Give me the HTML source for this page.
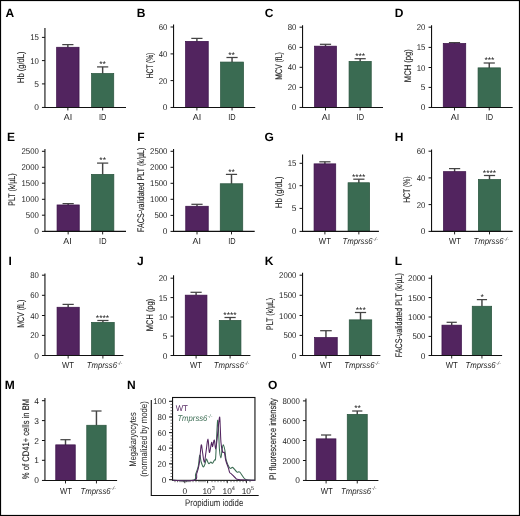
<!DOCTYPE html>
<html><head><meta charset="utf-8"><style>
html,body{margin:0;padding:0;background:#fff;}
svg{display:block;font-family:"Liberation Sans", sans-serif;will-change:transform;text-rendering:geometricPrecision;}
</style></head><body>
<svg width="520" height="516" viewBox="0 0 520 516">
<rect x="0.5" y="0.5" width="519" height="515" fill="#fff" stroke="#000" stroke-width="1.2"/>
<line x1="67.85" y1="44.60" x2="67.85" y2="47.40" stroke="#444" stroke-width="1.45"/>
<line x1="62.25" y1="44.60" x2="73.45" y2="44.60" stroke="#444" stroke-width="1.25"/>
<rect x="56.65" y="47.25" width="22.40" height="60.20" fill="#52245f" stroke="#3a0f48" stroke-width="0.7"/>
<line x1="67.85" y1="107.45" x2="67.85" y2="110.45" stroke="#222" stroke-width="1"/>
<line x1="102.65" y1="66.90" x2="102.65" y2="73.60" stroke="#444" stroke-width="1.45"/>
<line x1="97.05" y1="66.90" x2="108.25" y2="66.90" stroke="#444" stroke-width="1.25"/>
<rect x="91.55" y="73.45" width="22.20" height="34.00" fill="#3a6b52" stroke="#28533d" stroke-width="0.7"/>
<line x1="102.65" y1="107.45" x2="102.65" y2="110.45" stroke="#222" stroke-width="1"/>
<line x1="44.94" y1="28.00" x2="44.94" y2="107.95" stroke="#111" stroke-width="1.1"/>
<line x1="44.44" y1="107.45" x2="126.00" y2="107.45" stroke="#111" stroke-width="1.1"/>
<line x1="41.94" y1="107.45" x2="44.94" y2="107.45" stroke="#111" stroke-width="1"/>
<text x="38.84" y="110.45" font-size="8.4" text-anchor="end" fill="#1e1e1e" >0</text>
<line x1="41.94" y1="83.90" x2="44.94" y2="83.90" stroke="#111" stroke-width="1"/>
<text x="38.84" y="86.90" font-size="8.4" text-anchor="end" fill="#1e1e1e" >5</text>
<line x1="41.94" y1="60.60" x2="44.94" y2="60.60" stroke="#111" stroke-width="1"/>
<text x="38.84" y="63.60" font-size="8.4" text-anchor="end" fill="#1e1e1e" textLength="8.69" lengthAdjust="spacingAndGlyphs" >10</text>
<line x1="41.94" y1="37.40" x2="44.94" y2="37.40" stroke="#111" stroke-width="1"/>
<text x="38.84" y="40.40" font-size="8.4" text-anchor="end" fill="#1e1e1e" textLength="8.69" lengthAdjust="spacingAndGlyphs" >15</text>
<text x="102.60" y="67.11" font-size="8.6" text-anchor="middle" fill="#222">**</text>
<text x="24.10" y="67.20" font-size="9.6" text-anchor="middle" fill="#1e1e1e" textLength="31.4" lengthAdjust="spacingAndGlyphs" transform="rotate(-90 24.10 67.20)" stroke="#1e1e1e" stroke-width="0.12">Hb (g/dL)</text>
<text x="68.00" y="120.20" font-size="8.6" text-anchor="middle" fill="#1e1e1e" textLength="8.4" lengthAdjust="spacingAndGlyphs" >AI</text>
<text x="102.70" y="120.20" font-size="8.6" text-anchor="middle" fill="#1e1e1e" textLength="7.4" lengthAdjust="spacingAndGlyphs" >ID</text>
<text x="5.60" y="17.00" font-size="12" text-anchor="start" fill="#000" font-weight="bold" >A</text>
<line x1="196.90" y1="38.40" x2="196.90" y2="41.50" stroke="#444" stroke-width="1.45"/>
<line x1="191.30" y1="38.40" x2="202.50" y2="38.40" stroke="#444" stroke-width="1.25"/>
<rect x="185.55" y="41.35" width="22.70" height="66.10" fill="#52245f" stroke="#3a0f48" stroke-width="0.7"/>
<line x1="196.90" y1="107.45" x2="196.90" y2="110.45" stroke="#222" stroke-width="1"/>
<line x1="232.05" y1="57.50" x2="232.05" y2="62.20" stroke="#444" stroke-width="1.45"/>
<line x1="226.45" y1="57.50" x2="237.65" y2="57.50" stroke="#444" stroke-width="1.25"/>
<rect x="220.55" y="62.05" width="23.00" height="45.40" fill="#3a6b52" stroke="#28533d" stroke-width="0.7"/>
<line x1="232.05" y1="107.45" x2="232.05" y2="110.45" stroke="#222" stroke-width="1"/>
<line x1="173.55" y1="24.40" x2="173.55" y2="107.95" stroke="#111" stroke-width="1.1"/>
<line x1="173.05" y1="107.45" x2="255.20" y2="107.45" stroke="#111" stroke-width="1.1"/>
<line x1="170.55" y1="107.45" x2="173.55" y2="107.45" stroke="#111" stroke-width="1"/>
<text x="167.45" y="110.45" font-size="8.4" text-anchor="end" fill="#1e1e1e" >0</text>
<line x1="170.55" y1="80.60" x2="173.55" y2="80.60" stroke="#111" stroke-width="1"/>
<text x="167.45" y="83.60" font-size="8.4" text-anchor="end" fill="#1e1e1e" textLength="8.69" lengthAdjust="spacingAndGlyphs" >20</text>
<line x1="170.55" y1="53.90" x2="173.55" y2="53.90" stroke="#111" stroke-width="1"/>
<text x="167.45" y="56.90" font-size="8.4" text-anchor="end" fill="#1e1e1e" textLength="8.69" lengthAdjust="spacingAndGlyphs" >40</text>
<line x1="170.55" y1="27.00" x2="173.55" y2="27.00" stroke="#111" stroke-width="1"/>
<text x="167.45" y="30.00" font-size="8.4" text-anchor="end" fill="#1e1e1e" textLength="8.69" lengthAdjust="spacingAndGlyphs" >60</text>
<text x="231.50" y="57.61" font-size="8.6" text-anchor="middle" fill="#222">**</text>
<text x="153.00" y="65.50" font-size="9.6" text-anchor="middle" fill="#1e1e1e" textLength="25.7" lengthAdjust="spacingAndGlyphs" transform="rotate(-90 153.00 65.50)" stroke="#1e1e1e" stroke-width="0.12">HCT (%)</text>
<text x="197.00" y="120.20" font-size="8.6" text-anchor="middle" fill="#1e1e1e" textLength="8.4" lengthAdjust="spacingAndGlyphs" >AI</text>
<text x="232.00" y="120.20" font-size="8.6" text-anchor="middle" fill="#1e1e1e" textLength="7.4" lengthAdjust="spacingAndGlyphs" >ID</text>
<text x="136.80" y="17.00" font-size="12" text-anchor="start" fill="#000" font-weight="bold" >B</text>
<line x1="325.50" y1="44.30" x2="325.50" y2="46.30" stroke="#444" stroke-width="1.45"/>
<line x1="319.90" y1="44.30" x2="331.10" y2="44.30" stroke="#444" stroke-width="1.25"/>
<rect x="314.55" y="46.15" width="21.90" height="61.30" fill="#52245f" stroke="#3a0f48" stroke-width="0.7"/>
<line x1="325.50" y1="107.45" x2="325.50" y2="110.45" stroke="#222" stroke-width="1"/>
<line x1="360.15" y1="58.70" x2="360.15" y2="61.50" stroke="#444" stroke-width="1.45"/>
<line x1="354.55" y1="58.70" x2="365.75" y2="58.70" stroke="#444" stroke-width="1.25"/>
<rect x="349.05" y="61.35" width="22.20" height="46.10" fill="#3a6b52" stroke="#28533d" stroke-width="0.7"/>
<line x1="360.15" y1="107.45" x2="360.15" y2="110.45" stroke="#222" stroke-width="1"/>
<line x1="302.55" y1="25.20" x2="302.55" y2="107.95" stroke="#111" stroke-width="1.1"/>
<line x1="302.05" y1="107.45" x2="383.00" y2="107.45" stroke="#111" stroke-width="1.1"/>
<line x1="299.55" y1="107.45" x2="302.55" y2="107.45" stroke="#111" stroke-width="1"/>
<text x="296.45" y="110.45" font-size="8.4" text-anchor="end" fill="#1e1e1e" >0</text>
<line x1="299.55" y1="87.40" x2="302.55" y2="87.40" stroke="#111" stroke-width="1"/>
<text x="296.45" y="90.40" font-size="8.4" text-anchor="end" fill="#1e1e1e" textLength="8.69" lengthAdjust="spacingAndGlyphs" >20</text>
<line x1="299.55" y1="67.30" x2="302.55" y2="67.30" stroke="#111" stroke-width="1"/>
<text x="296.45" y="70.30" font-size="8.4" text-anchor="end" fill="#1e1e1e" textLength="8.69" lengthAdjust="spacingAndGlyphs" >40</text>
<line x1="299.55" y1="47.40" x2="302.55" y2="47.40" stroke="#111" stroke-width="1"/>
<text x="296.45" y="50.40" font-size="8.4" text-anchor="end" fill="#1e1e1e" textLength="8.69" lengthAdjust="spacingAndGlyphs" >60</text>
<line x1="299.55" y1="27.20" x2="302.55" y2="27.20" stroke="#111" stroke-width="1"/>
<text x="296.45" y="30.20" font-size="8.4" text-anchor="end" fill="#1e1e1e" textLength="8.69" lengthAdjust="spacingAndGlyphs" >80</text>
<text x="360.20" y="59.41" font-size="8.6" text-anchor="middle" fill="#222">***</text>
<text x="282.30" y="65.90" font-size="9.6" text-anchor="middle" fill="#1e1e1e" textLength="27.6" lengthAdjust="spacingAndGlyphs" transform="rotate(-90 282.30 65.90)" stroke="#1e1e1e" stroke-width="0.12">MCV (fL)</text>
<text x="326.00" y="120.20" font-size="8.6" text-anchor="middle" fill="#1e1e1e" textLength="8.4" lengthAdjust="spacingAndGlyphs" >AI</text>
<text x="360.30" y="120.20" font-size="8.6" text-anchor="middle" fill="#1e1e1e" textLength="7.4" lengthAdjust="spacingAndGlyphs" >ID</text>
<text x="264.80" y="17.00" font-size="12" text-anchor="start" fill="#000" font-weight="bold" >C</text>
<line x1="454.50" y1="42.60" x2="454.50" y2="43.60" stroke="#444" stroke-width="1.45"/>
<line x1="448.90" y1="42.60" x2="460.10" y2="42.60" stroke="#444" stroke-width="1.25"/>
<rect x="443.25" y="43.45" width="22.50" height="64.00" fill="#52245f" stroke="#3a0f48" stroke-width="0.7"/>
<line x1="454.50" y1="107.45" x2="454.50" y2="110.45" stroke="#222" stroke-width="1"/>
<line x1="489.25" y1="63.00" x2="489.25" y2="68.00" stroke="#444" stroke-width="1.45"/>
<line x1="483.65" y1="63.00" x2="494.85" y2="63.00" stroke="#444" stroke-width="1.25"/>
<rect x="478.05" y="67.85" width="22.40" height="39.60" fill="#3a6b52" stroke="#28533d" stroke-width="0.7"/>
<line x1="489.25" y1="107.45" x2="489.25" y2="110.45" stroke="#222" stroke-width="1"/>
<line x1="431.55" y1="25.20" x2="431.55" y2="107.95" stroke="#111" stroke-width="1.1"/>
<line x1="431.05" y1="107.45" x2="512.70" y2="107.45" stroke="#111" stroke-width="1.1"/>
<line x1="428.55" y1="107.45" x2="431.55" y2="107.45" stroke="#111" stroke-width="1"/>
<text x="425.45" y="110.45" font-size="8.4" text-anchor="end" fill="#1e1e1e" >0</text>
<line x1="428.55" y1="87.40" x2="431.55" y2="87.40" stroke="#111" stroke-width="1"/>
<text x="425.45" y="90.40" font-size="8.4" text-anchor="end" fill="#1e1e1e" >5</text>
<line x1="428.55" y1="67.50" x2="431.55" y2="67.50" stroke="#111" stroke-width="1"/>
<text x="425.45" y="70.50" font-size="8.4" text-anchor="end" fill="#1e1e1e" textLength="8.69" lengthAdjust="spacingAndGlyphs" >10</text>
<line x1="428.55" y1="47.40" x2="431.55" y2="47.40" stroke="#111" stroke-width="1"/>
<text x="425.45" y="50.40" font-size="8.4" text-anchor="end" fill="#1e1e1e" textLength="8.69" lengthAdjust="spacingAndGlyphs" >15</text>
<line x1="428.55" y1="27.20" x2="431.55" y2="27.20" stroke="#111" stroke-width="1"/>
<text x="425.45" y="30.20" font-size="8.4" text-anchor="end" fill="#1e1e1e" textLength="8.69" lengthAdjust="spacingAndGlyphs" >20</text>
<text x="489.40" y="63.41" font-size="8.6" text-anchor="middle" fill="#222">***</text>
<text x="411.00" y="65.70" font-size="9.6" text-anchor="middle" fill="#1e1e1e" textLength="33" lengthAdjust="spacingAndGlyphs" transform="rotate(-90 411.00 65.70)" stroke="#1e1e1e" stroke-width="0.12">MCH (pg)</text>
<text x="455.00" y="120.20" font-size="8.6" text-anchor="middle" fill="#1e1e1e" textLength="8.4" lengthAdjust="spacingAndGlyphs" >AI</text>
<text x="489.50" y="120.20" font-size="8.6" text-anchor="middle" fill="#1e1e1e" textLength="7.4" lengthAdjust="spacingAndGlyphs" >ID</text>
<text x="394.80" y="17.00" font-size="12" text-anchor="start" fill="#000" font-weight="bold" >D</text>
<line x1="68.15" y1="203.60" x2="68.15" y2="205.10" stroke="#444" stroke-width="1.45"/>
<line x1="62.55" y1="203.60" x2="73.75" y2="203.60" stroke="#444" stroke-width="1.25"/>
<rect x="57.05" y="204.95" width="22.20" height="26.45" fill="#52245f" stroke="#3a0f48" stroke-width="0.7"/>
<line x1="68.15" y1="231.40" x2="68.15" y2="234.40" stroke="#222" stroke-width="1"/>
<line x1="102.65" y1="163.10" x2="102.65" y2="174.50" stroke="#444" stroke-width="1.45"/>
<line x1="97.05" y1="163.10" x2="108.25" y2="163.10" stroke="#444" stroke-width="1.25"/>
<rect x="91.45" y="174.35" width="22.40" height="57.05" fill="#3a6b52" stroke="#28533d" stroke-width="0.7"/>
<line x1="102.65" y1="231.40" x2="102.65" y2="234.40" stroke="#222" stroke-width="1"/>
<line x1="44.94" y1="149.00" x2="44.94" y2="231.90" stroke="#111" stroke-width="1.1"/>
<line x1="44.44" y1="231.40" x2="126.00" y2="231.40" stroke="#111" stroke-width="1.1"/>
<line x1="41.94" y1="231.40" x2="44.94" y2="231.40" stroke="#111" stroke-width="1"/>
<text x="38.84" y="234.40" font-size="8.4" text-anchor="end" fill="#1e1e1e" >0</text>
<line x1="41.94" y1="215.20" x2="44.94" y2="215.20" stroke="#111" stroke-width="1"/>
<text x="38.84" y="218.20" font-size="8.4" text-anchor="end" fill="#1e1e1e" textLength="13.03" lengthAdjust="spacingAndGlyphs" >500</text>
<line x1="41.94" y1="199.30" x2="44.94" y2="199.30" stroke="#111" stroke-width="1"/>
<text x="38.84" y="202.30" font-size="8.4" text-anchor="end" fill="#1e1e1e" textLength="17.37" lengthAdjust="spacingAndGlyphs" >1000</text>
<line x1="41.94" y1="183.20" x2="44.94" y2="183.20" stroke="#111" stroke-width="1"/>
<text x="38.84" y="186.20" font-size="8.4" text-anchor="end" fill="#1e1e1e" textLength="17.37" lengthAdjust="spacingAndGlyphs" >1500</text>
<line x1="41.94" y1="167.30" x2="44.94" y2="167.30" stroke="#111" stroke-width="1"/>
<text x="38.84" y="170.30" font-size="8.4" text-anchor="end" fill="#1e1e1e" textLength="17.37" lengthAdjust="spacingAndGlyphs" >2000</text>
<line x1="41.94" y1="151.30" x2="44.94" y2="151.30" stroke="#111" stroke-width="1"/>
<text x="38.84" y="154.30" font-size="8.4" text-anchor="end" fill="#1e1e1e" textLength="17.37" lengthAdjust="spacingAndGlyphs" >2500</text>
<text x="102.70" y="163.41" font-size="8.6" text-anchor="middle" fill="#222">**</text>
<text x="15.10" y="189.60" font-size="9.6" text-anchor="middle" fill="#1e1e1e" textLength="32.2" lengthAdjust="spacingAndGlyphs" transform="rotate(-90 15.10 189.60)" stroke="#1e1e1e" stroke-width="0.12">PLT (k/µL)</text>
<text x="67.50" y="244.30" font-size="8.6" text-anchor="middle" fill="#1e1e1e" textLength="8.4" lengthAdjust="spacingAndGlyphs" >AI</text>
<text x="102.80" y="244.30" font-size="8.6" text-anchor="middle" fill="#1e1e1e" textLength="7.4" lengthAdjust="spacingAndGlyphs" >ID</text>
<text x="7.00" y="141.20" font-size="12" text-anchor="start" fill="#000" font-weight="bold" >E</text>
<line x1="197.00" y1="204.30" x2="197.00" y2="206.40" stroke="#444" stroke-width="1.45"/>
<line x1="191.40" y1="204.30" x2="202.60" y2="204.30" stroke="#444" stroke-width="1.25"/>
<rect x="185.75" y="206.25" width="22.50" height="25.15" fill="#52245f" stroke="#3a0f48" stroke-width="0.7"/>
<line x1="197.00" y1="231.40" x2="197.00" y2="234.40" stroke="#222" stroke-width="1"/>
<line x1="231.50" y1="174.40" x2="231.50" y2="183.90" stroke="#444" stroke-width="1.45"/>
<line x1="225.90" y1="174.40" x2="237.10" y2="174.40" stroke="#444" stroke-width="1.25"/>
<rect x="220.25" y="183.75" width="22.50" height="47.65" fill="#3a6b52" stroke="#28533d" stroke-width="0.7"/>
<line x1="231.50" y1="231.40" x2="231.50" y2="234.40" stroke="#222" stroke-width="1"/>
<line x1="173.55" y1="149.00" x2="173.55" y2="231.90" stroke="#111" stroke-width="1.1"/>
<line x1="173.05" y1="231.40" x2="254.70" y2="231.40" stroke="#111" stroke-width="1.1"/>
<line x1="170.55" y1="231.40" x2="173.55" y2="231.40" stroke="#111" stroke-width="1"/>
<text x="167.45" y="234.40" font-size="8.4" text-anchor="end" fill="#1e1e1e" >0</text>
<line x1="170.55" y1="215.40" x2="173.55" y2="215.40" stroke="#111" stroke-width="1"/>
<text x="167.45" y="218.40" font-size="8.4" text-anchor="end" fill="#1e1e1e" textLength="13.03" lengthAdjust="spacingAndGlyphs" >500</text>
<line x1="170.55" y1="199.30" x2="173.55" y2="199.30" stroke="#111" stroke-width="1"/>
<text x="167.45" y="202.30" font-size="8.4" text-anchor="end" fill="#1e1e1e" textLength="17.37" lengthAdjust="spacingAndGlyphs" >1000</text>
<line x1="170.55" y1="183.30" x2="173.55" y2="183.30" stroke="#111" stroke-width="1"/>
<text x="167.45" y="186.30" font-size="8.4" text-anchor="end" fill="#1e1e1e" textLength="17.37" lengthAdjust="spacingAndGlyphs" >1500</text>
<line x1="170.55" y1="167.30" x2="173.55" y2="167.30" stroke="#111" stroke-width="1"/>
<text x="167.45" y="170.30" font-size="8.4" text-anchor="end" fill="#1e1e1e" textLength="17.37" lengthAdjust="spacingAndGlyphs" >2000</text>
<line x1="170.55" y1="151.30" x2="173.55" y2="151.30" stroke="#111" stroke-width="1"/>
<text x="167.45" y="154.30" font-size="8.4" text-anchor="end" fill="#1e1e1e" textLength="17.37" lengthAdjust="spacingAndGlyphs" >2500</text>
<text x="231.50" y="174.71" font-size="8.6" text-anchor="middle" fill="#222">**</text>
<text x="143.80" y="189.80" font-size="9.6" text-anchor="middle" fill="#1e1e1e" textLength="84.3" lengthAdjust="spacingAndGlyphs" transform="rotate(-90 143.80 189.80)" stroke="#1e1e1e" stroke-width="0.12">FACS-validated PLT (k/µL)</text>
<text x="196.80" y="244.30" font-size="8.6" text-anchor="middle" fill="#1e1e1e" textLength="8.4" lengthAdjust="spacingAndGlyphs" >AI</text>
<text x="232.00" y="244.30" font-size="8.6" text-anchor="middle" fill="#1e1e1e" textLength="7.4" lengthAdjust="spacingAndGlyphs" >ID</text>
<text x="137.30" y="141.20" font-size="12" text-anchor="start" fill="#000" font-weight="bold" >F</text>
<line x1="324.90" y1="161.80" x2="324.90" y2="164.00" stroke="#444" stroke-width="1.45"/>
<line x1="319.30" y1="161.80" x2="330.50" y2="161.80" stroke="#444" stroke-width="1.25"/>
<rect x="314.05" y="163.85" width="21.70" height="67.55" fill="#52245f" stroke="#3a0f48" stroke-width="0.7"/>
<line x1="324.90" y1="231.40" x2="324.90" y2="234.40" stroke="#222" stroke-width="1"/>
<line x1="358.85" y1="179.20" x2="358.85" y2="182.90" stroke="#444" stroke-width="1.45"/>
<line x1="353.25" y1="179.20" x2="364.45" y2="179.20" stroke="#444" stroke-width="1.25"/>
<rect x="348.05" y="182.75" width="21.60" height="48.65" fill="#3a6b52" stroke="#28533d" stroke-width="0.7"/>
<line x1="358.85" y1="231.40" x2="358.85" y2="234.40" stroke="#222" stroke-width="1"/>
<line x1="302.55" y1="154.50" x2="302.55" y2="231.90" stroke="#111" stroke-width="1.1"/>
<line x1="302.05" y1="231.40" x2="378.90" y2="231.40" stroke="#111" stroke-width="1.1"/>
<line x1="299.55" y1="231.40" x2="302.55" y2="231.40" stroke="#111" stroke-width="1"/>
<text x="296.45" y="234.40" font-size="8.4" text-anchor="end" fill="#1e1e1e" >0</text>
<line x1="299.55" y1="208.40" x2="302.55" y2="208.40" stroke="#111" stroke-width="1"/>
<text x="296.45" y="211.40" font-size="8.4" text-anchor="end" fill="#1e1e1e" >5</text>
<line x1="299.55" y1="185.70" x2="302.55" y2="185.70" stroke="#111" stroke-width="1"/>
<text x="296.45" y="188.70" font-size="8.4" text-anchor="end" fill="#1e1e1e" textLength="8.69" lengthAdjust="spacingAndGlyphs" >10</text>
<line x1="299.55" y1="163.30" x2="302.55" y2="163.30" stroke="#111" stroke-width="1"/>
<text x="296.45" y="166.30" font-size="8.4" text-anchor="end" fill="#1e1e1e" textLength="8.69" lengthAdjust="spacingAndGlyphs" >15</text>
<text x="358.70" y="179.71" font-size="8.6" text-anchor="middle" fill="#222">****</text>
<text x="281.60" y="192.20" font-size="9.6" text-anchor="middle" fill="#1e1e1e" textLength="31.4" lengthAdjust="spacingAndGlyphs" transform="rotate(-90 281.60 192.20)" stroke="#1e1e1e" stroke-width="0.12">Hb (g/dL)</text>
<text x="324.90" y="244.10" font-size="8.6" text-anchor="middle" fill="#1e1e1e" textLength="12.1" lengthAdjust="spacingAndGlyphs" >WT</text>
<text x="342.40" y="244.10" font-size="8.6" font-style="italic" fill="#1e1e1e" text-anchor="start"><tspan textLength="30.3" lengthAdjust="spacingAndGlyphs">Tmprss6</tspan><tspan font-size="5.16" dy="-3.3" dx="0.3">-/-</tspan></text>
<text x="264.50" y="141.20" font-size="12" text-anchor="start" fill="#000" font-weight="bold" >G</text>
<line x1="454.60" y1="168.60" x2="454.60" y2="171.80" stroke="#444" stroke-width="1.45"/>
<line x1="449.00" y1="168.60" x2="460.20" y2="168.60" stroke="#444" stroke-width="1.25"/>
<rect x="443.45" y="171.65" width="22.30" height="59.75" fill="#52245f" stroke="#3a0f48" stroke-width="0.7"/>
<line x1="454.60" y1="231.40" x2="454.60" y2="234.40" stroke="#222" stroke-width="1"/>
<line x1="489.50" y1="175.50" x2="489.50" y2="179.60" stroke="#444" stroke-width="1.45"/>
<line x1="483.90" y1="175.50" x2="495.10" y2="175.50" stroke="#444" stroke-width="1.25"/>
<rect x="478.35" y="179.45" width="22.30" height="51.95" fill="#3a6b52" stroke="#28533d" stroke-width="0.7"/>
<line x1="489.50" y1="231.40" x2="489.50" y2="234.40" stroke="#222" stroke-width="1"/>
<line x1="431.55" y1="149.40" x2="431.55" y2="231.90" stroke="#111" stroke-width="1.1"/>
<line x1="431.05" y1="231.40" x2="512.70" y2="231.40" stroke="#111" stroke-width="1.1"/>
<line x1="428.55" y1="231.40" x2="431.55" y2="231.40" stroke="#111" stroke-width="1"/>
<text x="425.45" y="234.40" font-size="8.4" text-anchor="end" fill="#1e1e1e" >0</text>
<line x1="428.55" y1="204.60" x2="431.55" y2="204.60" stroke="#111" stroke-width="1"/>
<text x="425.45" y="207.60" font-size="8.4" text-anchor="end" fill="#1e1e1e" textLength="8.69" lengthAdjust="spacingAndGlyphs" >20</text>
<line x1="428.55" y1="177.90" x2="431.55" y2="177.90" stroke="#111" stroke-width="1"/>
<text x="425.45" y="180.90" font-size="8.4" text-anchor="end" fill="#1e1e1e" textLength="8.69" lengthAdjust="spacingAndGlyphs" >40</text>
<line x1="428.55" y1="151.20" x2="431.55" y2="151.20" stroke="#111" stroke-width="1"/>
<text x="425.45" y="154.20" font-size="8.4" text-anchor="end" fill="#1e1e1e" textLength="8.69" lengthAdjust="spacingAndGlyphs" >60</text>
<text x="489.50" y="175.81" font-size="8.6" text-anchor="middle" fill="#222">****</text>
<text x="410.50" y="189.60" font-size="9.6" text-anchor="middle" fill="#1e1e1e" textLength="26.4" lengthAdjust="spacingAndGlyphs" transform="rotate(-90 410.50 189.60)" stroke="#1e1e1e" stroke-width="0.12">HCT (%)</text>
<text x="455.00" y="244.10" font-size="8.6" text-anchor="middle" fill="#1e1e1e" textLength="12.1" lengthAdjust="spacingAndGlyphs" >WT</text>
<text x="473.40" y="244.10" font-size="8.6" font-style="italic" fill="#1e1e1e" text-anchor="start"><tspan textLength="30.3" lengthAdjust="spacingAndGlyphs">Tmprss6</tspan><tspan font-size="5.16" dy="-3.3" dx="0.3">-/-</tspan></text>
<text x="394.80" y="141.20" font-size="12" text-anchor="start" fill="#000" font-weight="bold" >H</text>
<line x1="68.15" y1="304.40" x2="68.15" y2="307.40" stroke="#444" stroke-width="1.45"/>
<line x1="62.55" y1="304.40" x2="73.75" y2="304.40" stroke="#444" stroke-width="1.25"/>
<rect x="57.05" y="307.25" width="22.20" height="48.25" fill="#52245f" stroke="#3a0f48" stroke-width="0.7"/>
<line x1="68.15" y1="355.50" x2="68.15" y2="358.50" stroke="#222" stroke-width="1"/>
<line x1="102.90" y1="320.50" x2="102.90" y2="322.50" stroke="#444" stroke-width="1.45"/>
<line x1="97.30" y1="320.50" x2="108.50" y2="320.50" stroke="#444" stroke-width="1.25"/>
<rect x="91.55" y="322.35" width="22.70" height="33.15" fill="#3a6b52" stroke="#28533d" stroke-width="0.7"/>
<line x1="102.90" y1="355.50" x2="102.90" y2="358.50" stroke="#222" stroke-width="1"/>
<line x1="44.94" y1="273.40" x2="44.94" y2="356.00" stroke="#111" stroke-width="1.1"/>
<line x1="44.44" y1="355.50" x2="123.40" y2="355.50" stroke="#111" stroke-width="1.1"/>
<line x1="41.94" y1="355.50" x2="44.94" y2="355.50" stroke="#111" stroke-width="1"/>
<text x="38.84" y="358.50" font-size="8.4" text-anchor="end" fill="#1e1e1e" >0</text>
<line x1="41.94" y1="335.40" x2="44.94" y2="335.40" stroke="#111" stroke-width="1"/>
<text x="38.84" y="338.40" font-size="8.4" text-anchor="end" fill="#1e1e1e" textLength="8.69" lengthAdjust="spacingAndGlyphs" >20</text>
<line x1="41.94" y1="315.50" x2="44.94" y2="315.50" stroke="#111" stroke-width="1"/>
<text x="38.84" y="318.50" font-size="8.4" text-anchor="end" fill="#1e1e1e" textLength="8.69" lengthAdjust="spacingAndGlyphs" >40</text>
<line x1="41.94" y1="295.30" x2="44.94" y2="295.30" stroke="#111" stroke-width="1"/>
<text x="38.84" y="298.30" font-size="8.4" text-anchor="end" fill="#1e1e1e" textLength="8.69" lengthAdjust="spacingAndGlyphs" >60</text>
<line x1="41.94" y1="275.20" x2="44.94" y2="275.20" stroke="#111" stroke-width="1"/>
<text x="38.84" y="278.20" font-size="8.4" text-anchor="end" fill="#1e1e1e" textLength="8.69" lengthAdjust="spacingAndGlyphs" >80</text>
<text x="102.50" y="321.21" font-size="8.6" text-anchor="middle" fill="#222">****</text>
<text x="24.50" y="313.80" font-size="9.6" text-anchor="middle" fill="#1e1e1e" textLength="28.1" lengthAdjust="spacingAndGlyphs" transform="rotate(-90 24.50 313.80)" stroke="#1e1e1e" stroke-width="0.12">MCV (fL)</text>
<text x="68.00" y="368.40" font-size="8.6" text-anchor="middle" fill="#1e1e1e" textLength="12.1" lengthAdjust="spacingAndGlyphs" >WT</text>
<text x="86.70" y="368.40" font-size="8.6" font-style="italic" fill="#1e1e1e" text-anchor="start"><tspan textLength="30.3" lengthAdjust="spacingAndGlyphs">Tmprss6</tspan><tspan font-size="5.16" dy="-3.3" dx="0.3">-/-</tspan></text>
<text x="8.60" y="265.00" font-size="12" text-anchor="start" fill="#000" font-weight="bold" >I</text>
<line x1="196.10" y1="292.30" x2="196.10" y2="295.30" stroke="#444" stroke-width="1.45"/>
<line x1="190.50" y1="292.30" x2="201.70" y2="292.30" stroke="#444" stroke-width="1.25"/>
<rect x="185.25" y="295.15" width="21.70" height="60.35" fill="#52245f" stroke="#3a0f48" stroke-width="0.7"/>
<line x1="196.10" y1="355.50" x2="196.10" y2="358.50" stroke="#222" stroke-width="1"/>
<line x1="230.10" y1="317.50" x2="230.10" y2="320.50" stroke="#444" stroke-width="1.45"/>
<line x1="224.50" y1="317.50" x2="235.70" y2="317.50" stroke="#444" stroke-width="1.25"/>
<rect x="219.25" y="320.35" width="21.70" height="35.15" fill="#3a6b52" stroke="#28533d" stroke-width="0.7"/>
<line x1="230.10" y1="355.50" x2="230.10" y2="358.50" stroke="#222" stroke-width="1"/>
<line x1="173.55" y1="275.20" x2="173.55" y2="356.00" stroke="#111" stroke-width="1.1"/>
<line x1="173.05" y1="355.50" x2="250.40" y2="355.50" stroke="#111" stroke-width="1.1"/>
<line x1="170.55" y1="355.50" x2="173.55" y2="355.50" stroke="#111" stroke-width="1"/>
<text x="167.45" y="358.50" font-size="8.4" text-anchor="end" fill="#1e1e1e" >0</text>
<line x1="170.55" y1="336.10" x2="173.55" y2="336.10" stroke="#111" stroke-width="1"/>
<text x="167.45" y="339.10" font-size="8.4" text-anchor="end" fill="#1e1e1e" >5</text>
<line x1="170.55" y1="317.00" x2="173.55" y2="317.00" stroke="#111" stroke-width="1"/>
<text x="167.45" y="320.00" font-size="8.4" text-anchor="end" fill="#1e1e1e" textLength="8.69" lengthAdjust="spacingAndGlyphs" >10</text>
<line x1="170.55" y1="297.60" x2="173.55" y2="297.60" stroke="#111" stroke-width="1"/>
<text x="167.45" y="300.60" font-size="8.4" text-anchor="end" fill="#1e1e1e" textLength="8.69" lengthAdjust="spacingAndGlyphs" >15</text>
<line x1="170.55" y1="278.20" x2="173.55" y2="278.20" stroke="#111" stroke-width="1"/>
<text x="167.45" y="281.20" font-size="8.4" text-anchor="end" fill="#1e1e1e" textLength="8.69" lengthAdjust="spacingAndGlyphs" >20</text>
<text x="230.00" y="317.71" font-size="8.6" text-anchor="middle" fill="#222">****</text>
<text x="153.00" y="315.00" font-size="9.6" text-anchor="middle" fill="#1e1e1e" textLength="32.3" lengthAdjust="spacingAndGlyphs" transform="rotate(-90 153.00 315.00)" stroke="#1e1e1e" stroke-width="0.12">MCH (pg)</text>
<text x="196.00" y="368.40" font-size="8.6" text-anchor="middle" fill="#1e1e1e" textLength="12.1" lengthAdjust="spacingAndGlyphs" >WT</text>
<text x="213.70" y="368.40" font-size="8.6" font-style="italic" fill="#1e1e1e" text-anchor="start"><tspan textLength="30.3" lengthAdjust="spacingAndGlyphs">Tmprss6</tspan><tspan font-size="5.16" dy="-3.3" dx="0.3">-/-</tspan></text>
<text x="137.00" y="265.00" font-size="12" text-anchor="start" fill="#000" font-weight="bold" >J</text>
<line x1="325.95" y1="330.70" x2="325.95" y2="337.70" stroke="#444" stroke-width="1.45"/>
<line x1="320.15" y1="330.70" x2="331.75" y2="330.70" stroke="#444" stroke-width="1.25"/>
<rect x="314.65" y="337.55" width="22.60" height="17.95" fill="#52245f" stroke="#3a0f48" stroke-width="0.7"/>
<line x1="325.95" y1="355.50" x2="325.95" y2="358.50" stroke="#222" stroke-width="1"/>
<line x1="360.50" y1="312.50" x2="360.50" y2="320.00" stroke="#444" stroke-width="1.45"/>
<line x1="354.90" y1="312.50" x2="366.10" y2="312.50" stroke="#444" stroke-width="1.25"/>
<rect x="349.25" y="319.85" width="22.50" height="35.65" fill="#3a6b52" stroke="#28533d" stroke-width="0.7"/>
<line x1="360.50" y1="355.50" x2="360.50" y2="358.50" stroke="#222" stroke-width="1"/>
<line x1="302.55" y1="272.70" x2="302.55" y2="356.00" stroke="#111" stroke-width="1.1"/>
<line x1="302.05" y1="355.50" x2="380.40" y2="355.50" stroke="#111" stroke-width="1.1"/>
<line x1="299.55" y1="355.50" x2="302.55" y2="355.50" stroke="#111" stroke-width="1"/>
<text x="296.45" y="358.50" font-size="8.4" text-anchor="end" fill="#1e1e1e" >0</text>
<line x1="299.55" y1="335.40" x2="302.55" y2="335.40" stroke="#111" stroke-width="1"/>
<text x="296.45" y="338.40" font-size="8.4" text-anchor="end" fill="#1e1e1e" textLength="13.03" lengthAdjust="spacingAndGlyphs" >500</text>
<line x1="299.55" y1="315.50" x2="302.55" y2="315.50" stroke="#111" stroke-width="1"/>
<text x="296.45" y="318.50" font-size="8.4" text-anchor="end" fill="#1e1e1e" textLength="17.37" lengthAdjust="spacingAndGlyphs" >1000</text>
<line x1="299.55" y1="295.30" x2="302.55" y2="295.30" stroke="#111" stroke-width="1"/>
<text x="296.45" y="298.30" font-size="8.4" text-anchor="end" fill="#1e1e1e" textLength="17.37" lengthAdjust="spacingAndGlyphs" >1500</text>
<line x1="299.55" y1="275.20" x2="302.55" y2="275.20" stroke="#111" stroke-width="1"/>
<text x="296.45" y="278.20" font-size="8.4" text-anchor="end" fill="#1e1e1e" textLength="17.37" lengthAdjust="spacingAndGlyphs" >2000</text>
<text x="360.80" y="313.41" font-size="8.6" text-anchor="middle" fill="#222">***</text>
<text x="273.10" y="313.90" font-size="9.6" text-anchor="middle" fill="#1e1e1e" textLength="32" lengthAdjust="spacingAndGlyphs" transform="rotate(-90 273.10 313.90)" stroke="#1e1e1e" stroke-width="0.12">PLT (k/µL)</text>
<text x="326.00" y="368.40" font-size="8.6" text-anchor="middle" fill="#1e1e1e" textLength="12.1" lengthAdjust="spacingAndGlyphs" >WT</text>
<text x="344.20" y="368.40" font-size="8.6" font-style="italic" fill="#1e1e1e" text-anchor="start"><tspan textLength="30.3" lengthAdjust="spacingAndGlyphs">Tmprss6</tspan><tspan font-size="5.16" dy="-3.3" dx="0.3">-/-</tspan></text>
<text x="264.80" y="265.00" font-size="12" text-anchor="start" fill="#000" font-weight="bold" >K</text>
<line x1="451.70" y1="322.30" x2="451.70" y2="325.30" stroke="#444" stroke-width="1.45"/>
<line x1="446.60" y1="322.30" x2="456.80" y2="322.30" stroke="#444" stroke-width="1.25"/>
<rect x="441.95" y="325.15" width="19.50" height="30.35" fill="#52245f" stroke="#3a0f48" stroke-width="0.7"/>
<line x1="451.70" y1="355.50" x2="451.70" y2="358.50" stroke="#222" stroke-width="1"/>
<line x1="481.95" y1="299.60" x2="481.95" y2="306.40" stroke="#444" stroke-width="1.45"/>
<line x1="476.85" y1="299.60" x2="487.05" y2="299.60" stroke="#444" stroke-width="1.25"/>
<rect x="472.25" y="306.25" width="19.40" height="49.25" fill="#3a6b52" stroke="#28533d" stroke-width="0.7"/>
<line x1="481.95" y1="355.50" x2="481.95" y2="358.50" stroke="#222" stroke-width="1"/>
<line x1="431.55" y1="275.20" x2="431.55" y2="356.00" stroke="#111" stroke-width="1.1"/>
<line x1="431.05" y1="355.50" x2="502.10" y2="355.50" stroke="#111" stroke-width="1.1"/>
<line x1="428.55" y1="355.50" x2="431.55" y2="355.50" stroke="#111" stroke-width="1"/>
<text x="425.45" y="358.50" font-size="8.4" text-anchor="end" fill="#1e1e1e" >0</text>
<line x1="428.55" y1="336.40" x2="431.55" y2="336.40" stroke="#111" stroke-width="1"/>
<text x="425.45" y="339.40" font-size="8.4" text-anchor="end" fill="#1e1e1e" textLength="13.03" lengthAdjust="spacingAndGlyphs" >500</text>
<line x1="428.55" y1="317.00" x2="431.55" y2="317.00" stroke="#111" stroke-width="1"/>
<text x="425.45" y="320.00" font-size="8.4" text-anchor="end" fill="#1e1e1e" textLength="17.37" lengthAdjust="spacingAndGlyphs" >1000</text>
<line x1="428.55" y1="297.60" x2="431.55" y2="297.60" stroke="#111" stroke-width="1"/>
<text x="425.45" y="300.60" font-size="8.4" text-anchor="end" fill="#1e1e1e" textLength="17.37" lengthAdjust="spacingAndGlyphs" >1500</text>
<line x1="428.55" y1="278.20" x2="431.55" y2="278.20" stroke="#111" stroke-width="1"/>
<text x="425.45" y="281.20" font-size="8.4" text-anchor="end" fill="#1e1e1e" textLength="17.37" lengthAdjust="spacingAndGlyphs" >2000</text>
<text x="482.20" y="300.01" font-size="8.6" text-anchor="middle" fill="#222">*</text>
<text x="401.90" y="315.10" font-size="9.6" text-anchor="middle" fill="#1e1e1e" textLength="84.2" lengthAdjust="spacingAndGlyphs" transform="rotate(-90 401.90 315.10)" stroke="#1e1e1e" stroke-width="0.12">FACS-validated PLT (k/µL)</text>
<text x="451.70" y="368.40" font-size="8.6" text-anchor="middle" fill="#1e1e1e" textLength="12.1" lengthAdjust="spacingAndGlyphs" >WT</text>
<text x="465.40" y="368.40" font-size="8.6" font-style="italic" fill="#1e1e1e" text-anchor="start"><tspan textLength="30.3" lengthAdjust="spacingAndGlyphs">Tmprss6</tspan><tspan font-size="5.16" dy="-3.3" dx="0.3">-/-</tspan></text>
<text x="394.80" y="265.00" font-size="12" text-anchor="start" fill="#000" font-weight="bold" >L</text>
<line x1="65.50" y1="439.70" x2="65.50" y2="445.00" stroke="#444" stroke-width="1.45"/>
<line x1="60.40" y1="439.70" x2="70.60" y2="439.70" stroke="#444" stroke-width="1.25"/>
<rect x="55.75" y="444.85" width="19.50" height="35.60" fill="#52245f" stroke="#3a0f48" stroke-width="0.7"/>
<line x1="65.50" y1="480.45" x2="65.50" y2="483.45" stroke="#222" stroke-width="1"/>
<line x1="96.45" y1="411.00" x2="96.45" y2="425.40" stroke="#444" stroke-width="1.45"/>
<line x1="91.35" y1="411.00" x2="101.55" y2="411.00" stroke="#444" stroke-width="1.25"/>
<rect x="86.75" y="425.25" width="19.40" height="55.20" fill="#3a6b52" stroke="#28533d" stroke-width="0.7"/>
<line x1="96.45" y1="480.45" x2="96.45" y2="483.45" stroke="#222" stroke-width="1"/>
<line x1="44.94" y1="398.10" x2="44.94" y2="480.95" stroke="#111" stroke-width="1.1"/>
<line x1="44.44" y1="480.45" x2="117.10" y2="480.45" stroke="#111" stroke-width="1.1"/>
<line x1="41.94" y1="480.45" x2="44.94" y2="480.45" stroke="#111" stroke-width="1"/>
<text x="38.84" y="483.45" font-size="8.4" text-anchor="end" fill="#1e1e1e" >0</text>
<line x1="41.94" y1="460.30" x2="44.94" y2="460.30" stroke="#111" stroke-width="1"/>
<text x="38.84" y="463.30" font-size="8.4" text-anchor="end" fill="#1e1e1e" >1</text>
<line x1="41.94" y1="440.50" x2="44.94" y2="440.50" stroke="#111" stroke-width="1"/>
<text x="38.84" y="443.50" font-size="8.4" text-anchor="end" fill="#1e1e1e" >2</text>
<line x1="41.94" y1="420.60" x2="44.94" y2="420.60" stroke="#111" stroke-width="1"/>
<text x="38.84" y="423.60" font-size="8.4" text-anchor="end" fill="#1e1e1e" >3</text>
<line x1="41.94" y1="400.70" x2="44.94" y2="400.70" stroke="#111" stroke-width="1"/>
<text x="38.84" y="403.70" font-size="8.4" text-anchor="end" fill="#1e1e1e" >4</text>
<text x="29.30" y="439.00" font-size="9.6" text-anchor="middle" fill="#1e1e1e" textLength="80.3" lengthAdjust="spacingAndGlyphs" transform="rotate(-90 29.30 439.00)" stroke="#1e1e1e" stroke-width="0.12">% of CD41+ cells in BM</text>
<text x="66.00" y="493.50" font-size="8.6" text-anchor="middle" fill="#1e1e1e" textLength="12.1" lengthAdjust="spacingAndGlyphs" >WT</text>
<text x="80.40" y="493.50" font-size="8.6" font-style="italic" fill="#1e1e1e" text-anchor="start"><tspan textLength="30.3" lengthAdjust="spacingAndGlyphs">Tmprss6</tspan><tspan font-size="5.16" dy="-3.3" dx="0.3">-/-</tspan></text>
<text x="4.80" y="389.40" font-size="12" text-anchor="start" fill="#000" font-weight="bold" >M</text>
<line x1="326.10" y1="435.00" x2="326.10" y2="439.00" stroke="#444" stroke-width="1.45"/>
<line x1="321.00" y1="435.00" x2="331.20" y2="435.00" stroke="#444" stroke-width="1.25"/>
<rect x="316.25" y="438.85" width="19.70" height="41.60" fill="#52245f" stroke="#3a0f48" stroke-width="0.7"/>
<line x1="326.10" y1="480.45" x2="326.10" y2="483.45" stroke="#222" stroke-width="1"/>
<line x1="357.25" y1="411.00" x2="357.25" y2="414.50" stroke="#444" stroke-width="1.45"/>
<line x1="352.15" y1="411.00" x2="362.35" y2="411.00" stroke="#444" stroke-width="1.25"/>
<rect x="347.25" y="414.35" width="20.00" height="66.10" fill="#3a6b52" stroke="#28533d" stroke-width="0.7"/>
<line x1="357.25" y1="480.45" x2="357.25" y2="483.45" stroke="#222" stroke-width="1"/>
<line x1="305.95" y1="398.60" x2="305.95" y2="480.95" stroke="#111" stroke-width="1.1"/>
<line x1="305.45" y1="480.45" x2="378.40" y2="480.45" stroke="#111" stroke-width="1.1"/>
<line x1="302.95" y1="480.45" x2="305.95" y2="480.45" stroke="#111" stroke-width="1"/>
<text x="299.85" y="483.45" font-size="8.4" text-anchor="end" fill="#1e1e1e" >0</text>
<line x1="302.95" y1="460.50" x2="305.95" y2="460.50" stroke="#111" stroke-width="1"/>
<text x="299.85" y="463.50" font-size="8.4" text-anchor="end" fill="#1e1e1e" textLength="17.37" lengthAdjust="spacingAndGlyphs" >2000</text>
<line x1="302.95" y1="440.50" x2="305.95" y2="440.50" stroke="#111" stroke-width="1"/>
<text x="299.85" y="443.50" font-size="8.4" text-anchor="end" fill="#1e1e1e" textLength="17.37" lengthAdjust="spacingAndGlyphs" >4000</text>
<line x1="302.95" y1="420.60" x2="305.95" y2="420.60" stroke="#111" stroke-width="1"/>
<text x="299.85" y="423.60" font-size="8.4" text-anchor="end" fill="#1e1e1e" textLength="17.37" lengthAdjust="spacingAndGlyphs" >6000</text>
<line x1="302.95" y1="400.90" x2="305.95" y2="400.90" stroke="#111" stroke-width="1"/>
<text x="299.85" y="403.90" font-size="8.4" text-anchor="end" fill="#1e1e1e" textLength="17.37" lengthAdjust="spacingAndGlyphs" >8000</text>
<text x="357.60" y="411.21" font-size="8.6" text-anchor="middle" fill="#222">**</text>
<text x="276.10" y="439.00" font-size="9.6" text-anchor="middle" fill="#1e1e1e" textLength="81.5" lengthAdjust="spacingAndGlyphs" transform="rotate(-90 276.10 439.00)" stroke="#1e1e1e" stroke-width="0.12">PI fluorescence intensity</text>
<text x="326.80" y="493.50" font-size="8.6" text-anchor="middle" fill="#1e1e1e" textLength="12.1" lengthAdjust="spacingAndGlyphs" >WT</text>
<text x="340.90" y="493.50" font-size="8.6" font-style="italic" fill="#1e1e1e" text-anchor="start"><tspan textLength="30.3" lengthAdjust="spacingAndGlyphs">Tmprss6</tspan><tspan font-size="5.16" dy="-3.3" dx="0.3">-/-</tspan></text>
<text x="268.00" y="389.40" font-size="12" text-anchor="start" fill="#000" font-weight="bold" >O</text>
<text x="127.00" y="389.40" font-size="12" text-anchor="start" fill="#000" font-weight="bold" >N</text>
<line x1="151.30" y1="399.90" x2="151.30" y2="495.50" stroke="#111" stroke-width="1.1"/>
<line x1="150.80" y1="495.50" x2="258.70" y2="495.50" stroke="#111" stroke-width="1.1"/>
<rect x="172.55" y="397.5" width="82.4" height="82.85" fill="none" stroke="#111" stroke-width="1.1"/>
<line x1="169.00" y1="401.30" x2="172.55" y2="401.30" stroke="#111" stroke-width="1"/>
<text x="166.30" y="404.30" font-size="8.4" text-anchor="end" fill="#1e1e1e" textLength="13.03" lengthAdjust="spacingAndGlyphs" >100</text>
<line x1="169.00" y1="417.00" x2="172.55" y2="417.00" stroke="#111" stroke-width="1"/>
<text x="166.30" y="420.00" font-size="8.4" text-anchor="end" fill="#1e1e1e" textLength="8.69" lengthAdjust="spacingAndGlyphs" >80</text>
<line x1="169.00" y1="432.60" x2="172.55" y2="432.60" stroke="#111" stroke-width="1"/>
<text x="166.30" y="435.60" font-size="8.4" text-anchor="end" fill="#1e1e1e" textLength="8.69" lengthAdjust="spacingAndGlyphs" >60</text>
<line x1="169.00" y1="448.10" x2="172.55" y2="448.10" stroke="#111" stroke-width="1"/>
<text x="166.30" y="451.10" font-size="8.4" text-anchor="end" fill="#1e1e1e" textLength="8.69" lengthAdjust="spacingAndGlyphs" >40</text>
<line x1="169.00" y1="463.80" x2="172.55" y2="463.80" stroke="#111" stroke-width="1"/>
<text x="166.30" y="466.80" font-size="8.4" text-anchor="end" fill="#1e1e1e" textLength="8.69" lengthAdjust="spacingAndGlyphs" >20</text>
<line x1="169.00" y1="479.70" x2="172.55" y2="479.70" stroke="#111" stroke-width="1"/>
<text x="166.30" y="482.70" font-size="8.4" text-anchor="end" fill="#1e1e1e" >0</text>
<line x1="170.50" y1="401.30" x2="172.55" y2="401.30" stroke="#333" stroke-width="0.7"/>
<line x1="170.50" y1="404.44" x2="172.55" y2="404.44" stroke="#333" stroke-width="0.7"/>
<line x1="170.50" y1="407.57" x2="172.55" y2="407.57" stroke="#333" stroke-width="0.7"/>
<line x1="170.50" y1="410.71" x2="172.55" y2="410.71" stroke="#333" stroke-width="0.7"/>
<line x1="170.50" y1="413.84" x2="172.55" y2="413.84" stroke="#333" stroke-width="0.7"/>
<line x1="170.50" y1="416.98" x2="172.55" y2="416.98" stroke="#333" stroke-width="0.7"/>
<line x1="170.50" y1="420.12" x2="172.55" y2="420.12" stroke="#333" stroke-width="0.7"/>
<line x1="170.50" y1="423.25" x2="172.55" y2="423.25" stroke="#333" stroke-width="0.7"/>
<line x1="170.50" y1="426.39" x2="172.55" y2="426.39" stroke="#333" stroke-width="0.7"/>
<line x1="170.50" y1="429.52" x2="172.55" y2="429.52" stroke="#333" stroke-width="0.7"/>
<line x1="170.50" y1="432.66" x2="172.55" y2="432.66" stroke="#333" stroke-width="0.7"/>
<line x1="170.50" y1="435.80" x2="172.55" y2="435.80" stroke="#333" stroke-width="0.7"/>
<line x1="170.50" y1="438.93" x2="172.55" y2="438.93" stroke="#333" stroke-width="0.7"/>
<line x1="170.50" y1="442.07" x2="172.55" y2="442.07" stroke="#333" stroke-width="0.7"/>
<line x1="170.50" y1="445.20" x2="172.55" y2="445.20" stroke="#333" stroke-width="0.7"/>
<line x1="170.50" y1="448.34" x2="172.55" y2="448.34" stroke="#333" stroke-width="0.7"/>
<line x1="170.50" y1="451.48" x2="172.55" y2="451.48" stroke="#333" stroke-width="0.7"/>
<line x1="170.50" y1="454.61" x2="172.55" y2="454.61" stroke="#333" stroke-width="0.7"/>
<line x1="170.50" y1="457.75" x2="172.55" y2="457.75" stroke="#333" stroke-width="0.7"/>
<line x1="170.50" y1="460.88" x2="172.55" y2="460.88" stroke="#333" stroke-width="0.7"/>
<line x1="170.50" y1="464.02" x2="172.55" y2="464.02" stroke="#333" stroke-width="0.7"/>
<line x1="170.50" y1="467.16" x2="172.55" y2="467.16" stroke="#333" stroke-width="0.7"/>
<line x1="170.50" y1="470.29" x2="172.55" y2="470.29" stroke="#333" stroke-width="0.7"/>
<line x1="170.50" y1="473.43" x2="172.55" y2="473.43" stroke="#333" stroke-width="0.7"/>
<line x1="170.50" y1="476.56" x2="172.55" y2="476.56" stroke="#333" stroke-width="0.7"/>
<line x1="170.50" y1="479.70" x2="172.55" y2="479.70" stroke="#333" stroke-width="0.7"/>
<line x1="175.00" y1="480.35" x2="175.00" y2="482.20" stroke="#333" stroke-width="0.7"/>
<line x1="177.50" y1="480.35" x2="177.50" y2="482.20" stroke="#333" stroke-width="0.7"/>
<line x1="180.00" y1="480.35" x2="180.00" y2="482.20" stroke="#333" stroke-width="0.7"/>
<line x1="182.00" y1="480.35" x2="182.00" y2="482.20" stroke="#333" stroke-width="0.7"/>
<line x1="183.50" y1="480.35" x2="183.50" y2="482.20" stroke="#333" stroke-width="0.7"/>
<line x1="185.00" y1="480.35" x2="185.00" y2="482.20" stroke="#333" stroke-width="0.7"/>
<line x1="186.50" y1="480.35" x2="186.50" y2="482.20" stroke="#333" stroke-width="0.7"/>
<line x1="188.00" y1="480.35" x2="188.00" y2="482.20" stroke="#333" stroke-width="0.7"/>
<line x1="190.00" y1="480.35" x2="190.00" y2="482.20" stroke="#333" stroke-width="0.7"/>
<line x1="193.00" y1="480.35" x2="193.00" y2="482.20" stroke="#333" stroke-width="0.7"/>
<line x1="196.00" y1="480.35" x2="196.00" y2="482.20" stroke="#333" stroke-width="0.7"/>
<line x1="199.00" y1="480.35" x2="199.00" y2="482.20" stroke="#333" stroke-width="0.7"/>
<line x1="201.00" y1="480.35" x2="201.00" y2="482.20" stroke="#333" stroke-width="0.7"/>
<line x1="203.00" y1="480.35" x2="203.00" y2="482.20" stroke="#333" stroke-width="0.7"/>
<line x1="205.00" y1="480.35" x2="205.00" y2="482.20" stroke="#333" stroke-width="0.7"/>
<line x1="207.50" y1="480.35" x2="207.50" y2="482.20" stroke="#333" stroke-width="0.7"/>
<line x1="212.00" y1="480.35" x2="212.00" y2="482.20" stroke="#333" stroke-width="0.7"/>
<line x1="215.00" y1="480.35" x2="215.00" y2="482.20" stroke="#333" stroke-width="0.7"/>
<line x1="218.00" y1="480.35" x2="218.00" y2="482.20" stroke="#333" stroke-width="0.7"/>
<line x1="221.00" y1="480.35" x2="221.00" y2="482.20" stroke="#333" stroke-width="0.7"/>
<line x1="224.00" y1="480.35" x2="224.00" y2="482.20" stroke="#333" stroke-width="0.7"/>
<line x1="227.00" y1="480.35" x2="227.00" y2="482.20" stroke="#333" stroke-width="0.7"/>
<line x1="231.00" y1="480.35" x2="231.00" y2="482.20" stroke="#333" stroke-width="0.7"/>
<line x1="234.00" y1="480.35" x2="234.00" y2="482.20" stroke="#333" stroke-width="0.7"/>
<line x1="237.00" y1="480.35" x2="237.00" y2="482.20" stroke="#333" stroke-width="0.7"/>
<line x1="240.00" y1="480.35" x2="240.00" y2="482.20" stroke="#333" stroke-width="0.7"/>
<line x1="243.00" y1="480.35" x2="243.00" y2="482.20" stroke="#333" stroke-width="0.7"/>
<line x1="246.00" y1="480.35" x2="246.00" y2="482.20" stroke="#333" stroke-width="0.7"/>
<line x1="250.00" y1="480.35" x2="250.00" y2="482.20" stroke="#333" stroke-width="0.7"/>
<line x1="184.80" y1="480.35" x2="184.80" y2="483.20" stroke="#222" stroke-width="0.9"/>
<line x1="207.60" y1="480.35" x2="207.60" y2="483.20" stroke="#222" stroke-width="0.9"/>
<line x1="227.30" y1="480.35" x2="227.30" y2="483.20" stroke="#222" stroke-width="0.9"/>
<line x1="246.50" y1="480.35" x2="246.50" y2="483.20" stroke="#222" stroke-width="0.9"/>
<text x="184.80" y="493.50" font-size="8.4" text-anchor="middle" fill="#1e1e1e" >0</text>
<text x="202.40" y="493.5" font-size="8.4" fill="#1e1e1e">10<tspan font-size="5.6" dy="-3.4">3</tspan></text>
<text x="222.50" y="493.5" font-size="8.4" fill="#1e1e1e">10<tspan font-size="5.6" dy="-3.4">4</tspan></text>
<text x="241.70" y="493.5" font-size="8.4" fill="#1e1e1e">10<tspan font-size="5.6" dy="-3.4">5</tspan></text>
<text x="175.70" y="410.50" font-size="8.4" text-anchor="start" fill="#52245f" textLength="12.2" lengthAdjust="spacingAndGlyphs" >WT</text>
<text x="177.40" y="420.80" font-size="8.4" font-style="italic" fill="#3a6b52" text-anchor="start"><tspan textLength="30" lengthAdjust="spacingAndGlyphs">Tmprss6</tspan><tspan font-size="5.04" dy="-3.3" dx="0.3">-/-</tspan></text>
<text x="135.70" y="439.40" font-size="9.6" text-anchor="middle" fill="#1e1e1e" textLength="54.2" lengthAdjust="spacingAndGlyphs" transform="rotate(-90 135.70 439.40)" >Megakaryocytes</text>
<text x="146.50" y="439.00" font-size="9.6" text-anchor="middle" fill="#1e1e1e" textLength="75.6" lengthAdjust="spacingAndGlyphs" transform="rotate(-90 146.50 439.00)" >(normalized by mode)</text>
<text x="214.20" y="506.20" font-size="9.6" text-anchor="middle" fill="#1e1e1e" textLength="58.2" lengthAdjust="spacingAndGlyphs" >Propidium iodide</text>
<path d="M172.60,480.30 C176.10,480.30 189.77,481.28 193.60,480.30 C197.43,479.32 194.82,476.78 195.60,474.40 C196.38,472.02 197.62,469.20 198.30,466.00 C198.98,462.80 199.22,455.87 199.70,455.20 C200.18,454.53 200.62,460.07 201.20,462.00 C201.78,463.93 202.57,466.47 203.20,466.80 C203.83,467.13 204.48,465.30 205.00,464.00 C205.52,462.70 205.83,459.33 206.30,459.00 C206.77,458.67 207.35,461.22 207.80,462.00 C208.25,462.78 208.48,463.68 209.00,463.70 C209.52,463.72 210.32,462.17 210.90,462.10 C211.48,462.03 211.90,463.65 212.50,463.30 C213.10,462.95 213.98,460.83 214.50,460.00 C215.02,459.17 215.27,461.63 215.60,458.30 C215.93,454.97 216.17,446.30 216.50,440.00 C216.83,433.70 217.27,422.17 217.60,420.50 C217.93,418.83 218.18,425.08 218.50,430.00 C218.82,434.92 219.10,445.35 219.50,450.00 C219.90,454.65 220.48,457.90 220.90,457.90 C221.32,457.90 221.60,452.20 222.00,450.00 C222.40,447.80 222.82,444.62 223.30,444.70 C223.78,444.78 224.42,447.93 224.90,450.50 C225.38,453.07 225.47,457.27 226.20,460.10 C226.93,462.93 228.52,466.13 229.30,467.50 C230.08,468.87 230.32,468.30 230.90,468.30 C231.48,468.30 231.78,466.87 232.80,467.50 C233.82,468.13 235.83,471.33 237.00,472.10 C238.17,472.87 238.37,470.87 239.80,472.10 C241.23,473.33 243.08,478.13 245.60,479.50 C248.12,480.87 253.35,480.17 254.90,480.30" fill="none" stroke="#3a6b52" stroke-width="1.05" stroke-linejoin="round"/>
<path d="M172.60,480.30 C176.22,480.30 190.28,481.42 194.30,480.30 C198.32,479.18 196.07,475.47 196.70,473.60 C197.33,471.73 197.63,471.03 198.10,469.10 C198.57,467.17 198.98,466.00 199.50,462.00 C200.02,458.00 200.70,446.77 201.20,445.10 C201.70,443.43 201.98,449.10 202.50,452.00 C203.02,454.90 203.72,462.50 204.30,462.50 C204.88,462.50 205.38,455.93 206.00,452.00 C206.62,448.07 207.43,438.83 208.00,438.90 C208.57,438.97 208.80,451.82 209.40,452.40 C210.00,452.98 211.07,443.37 211.60,442.40 C212.13,441.43 212.15,447.00 212.60,446.60 C213.05,446.20 213.80,439.60 214.30,440.00 C214.80,440.40 215.15,449.00 215.60,449.00 C216.05,449.00 216.52,444.00 217.00,440.00 C217.48,436.00 218.05,428.82 218.50,425.00 C218.95,421.18 219.40,416.60 219.70,417.10 C220.00,417.60 220.08,423.72 220.30,428.00 C220.52,432.28 220.62,438.80 221.00,442.80 C221.38,446.80 222.03,450.38 222.60,452.00 C223.17,453.62 223.87,451.08 224.40,452.50 C224.93,453.92 225.12,457.87 225.80,460.50 C226.48,463.13 227.85,466.30 228.50,468.30 C229.15,470.30 229.18,471.53 229.70,472.50 C230.22,473.47 230.63,473.18 231.60,474.10 C232.57,475.02 234.33,477.10 235.50,478.00 C236.67,478.90 235.37,479.12 238.60,479.50 C241.83,479.88 252.18,480.17 254.90,480.30" fill="none" stroke="#52245f" stroke-width="1.05" stroke-linejoin="round"/>
</svg>
</body></html>
